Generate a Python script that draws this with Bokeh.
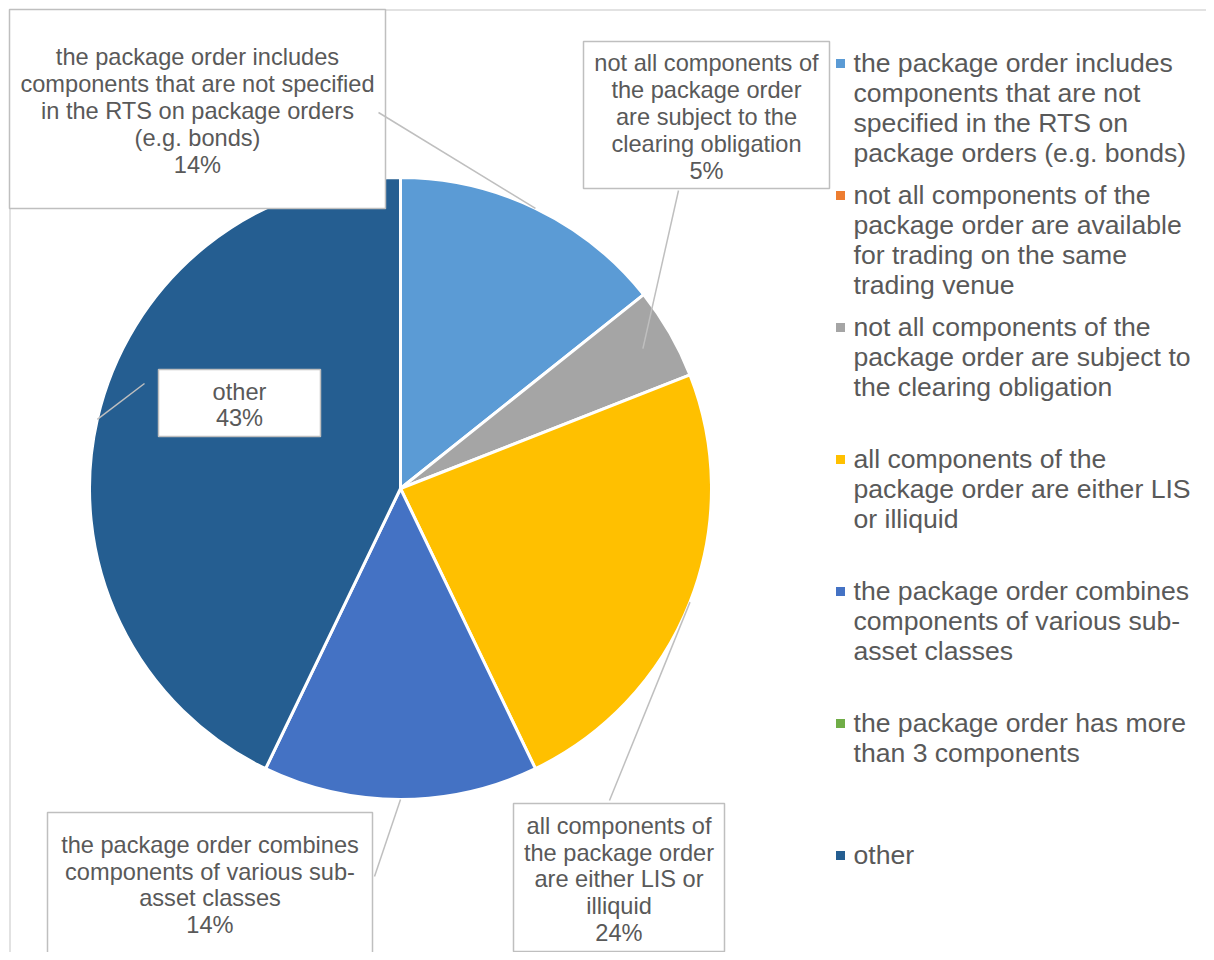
import math
from bokeh.plotting import figure
from bokeh.models import Range1d, ColumnDataSource
from bokeh.core.properties import value
from bokeh.embed import file_html
from bokeh.resources import INLINE

# ---------------- data ----------------
categories = [
    "the package order includes components that are not specified in the RTS on package orders (e.g. bonds)",
    "not all components of the package order are available for trading on the same trading venue",
    "not all components of the package order are subject to the clearing obligation",
    "all components of the package order are either LIS or illiquid",
    "the package order combines components of various sub-asset classes",
    "the package order has more than 3 components",
    "other",
]
counts = [3, 0, 1, 5, 3, 0, 9]
colors = ["#5B9BD5", "#ED7D31", "#A5A5A5", "#FFC000", "#4472C4", "#70AD47", "#255E91"]

legend_text = [
    "the package order includes\ncomponents that are not\nspecified in the RTS on\npackage orders (e.g. bonds)",
    "not all components of the\npackage order are available\nfor trading on the same\ntrading venue",
    "not all components of the\npackage order are subject to\nthe clearing obligation",
    "all components of the\npackage order are either LIS\nor illiquid",
    "the package order combines\ncomponents of various sub-\nasset classes",
    "the package order has more\nthan 3 components",
    "other",
]
label_names = [
    "the package order includes\ncomponents that are not specified\nin the RTS on package orders\n(e.g. bonds)",
    None,
    "not all components of\nthe package order\nare subject to the\nclearing obligation",
    "all components of\nthe package order\nare either LIS or\nilliquid",
    "the package order combines\ncomponents of various sub-\nasset classes",
    None,
    "other",
]

# ---------------- layout (pixel positions on the page) ----------------
CX, CY, R = 400, 488, 311
label_boxes = {0: (9, 9, 385, 208), 2: (583, 41, 829, 188), 3: (513, 803, 724, 951),
               4: (47, 812, 372, 953), 6: (158, 369, 320, 436)}
leader_box_end = {0: (378, 112), 2: (678, 190), 3: (609, 800), 4: (374, 876), 6: (144, 383)}
leader_rfac = {0: 1.0, 2: 0.9, 3: 1.0, 4: 1.0, 6: 1.0}

W, H = 1206, 952
p = figure(width=W, height=H, x_range=Range1d(0, W), y_range=Range1d(-H, 0),
           output_backend="svg", toolbar_location=None, min_border=0,
           x_axis_type=None, y_axis_type=None)
p.grid.visible = False
p.outline_line_color = None
p.background_fill_color = "white"
p.border_fill_color = "white"

# chart border (top and left visible)
p.segment(x0=[9.5, 9.5], y0=[-9.5, -9.5], x1=[W, 9.5], y1=[-9.5, -H],
          line_color="#D9D9D9", line_width=1.5)

# ---------------- pie ----------------
total = sum(counts)
fracs = [c / total for c in counts]
cum = [0.0]
for f in fracs:
    cum.append(cum[-1] + f)
starts = [math.pi / 2 - 2 * math.pi * cum[i] for i in range(len(counts))]
ends = [math.pi / 2 - 2 * math.pi * cum[i + 1] for i in range(len(counts))]
idx = [i for i in range(len(counts)) if counts[i] > 0]
src = ColumnDataSource(dict(
    x=[CX] * len(idx), y=[-CY] * len(idx),
    s=[starts[i] for i in idx], e=[ends[i] for i in idx],
    c=[colors[i] for i in idx]))
p.wedge(x="x", y="y", radius=R, start_angle="s", end_angle="e", direction="clock",
        fill_color="c", line_color="white", line_width=3, source=src)

# ---------------- data labels ----------------
bl, br, bt, bb, tx, ty, tt = [], [], [], [], [], [], []
lx0, ly0, lx1, ly1 = [], [], [], []
for i, (l, t, r, b) in label_boxes.items():
    bl.append(l); br.append(r); bt.append(-t); bb.append(-b)
    tx.append((l + r) / 2); ty.append(-((t + b) / 2 + 2))
    pct = round(100 * counts[i] / total)
    tt.append(f"{label_names[i]}\n{pct}%")
    mid = 2 * math.pi * (cum[i] + cum[i + 1]) / 2
    rr = R * leader_rfac[i]
    ex, ey = CX + rr * math.sin(mid), CY - rr * math.cos(mid)
    sx, sy = leader_box_end[i]
    lx0.append(sx); ly0.append(-sy); lx1.append(ex); ly1.append(-ey)

p.quad(left=bl, right=br, top=bt, bottom=bb, fill_color="white",
       line_color="#BFBFBF", line_width=1.5)
p.text(x=tx, y=ty, text=tt, text_align="center", text_baseline="middle",
       text_font=value("Liberation Sans"), text_font_size="23.6px",
       text_color="#595959", text_line_height=1.03)
p.segment(x0=lx0, y0=ly0, x1=lx1, y1=ly1, line_color="#BFBFBF", line_width=1.5)

# ---------------- legend ----------------
LX, LY0, LSTEP = 840, 63, 132
mx = [LX] * len(categories)
my = [-(LY0 + LSTEP * i) for i in range(len(categories))]
p.rect(x=mx, y=my, width=9, height=9, fill_color=colors, line_color=None)
p.text(x=[LX + 13] * len(categories), y=[v + 16 for v in my], text=legend_text,
       text_align="left", text_baseline="top",
       text_font=value("Liberation Sans"), text_font_size="26.6px",
       text_color="#595959", text_line_height=1.0)

open("out.html", "w").write(file_html(p, INLINE))
